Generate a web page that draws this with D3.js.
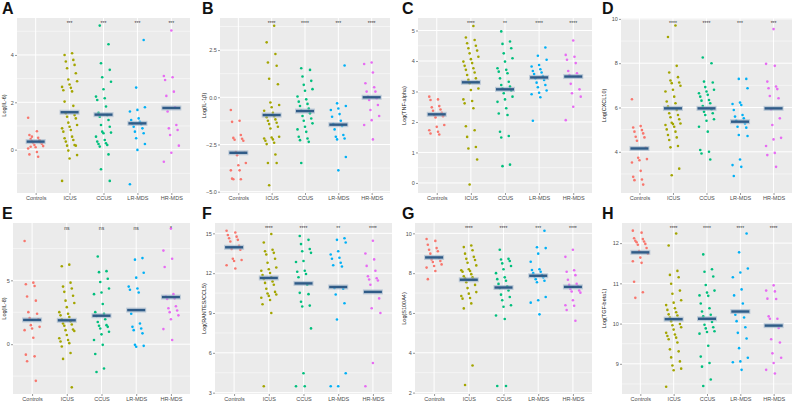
<!DOCTYPE html>
<html>
<head>
<meta charset="utf-8">
<script src="https://cdn.jsdelivr.net/npm/d3@7"></script>
<style>
  body { margin: 0; background: #fff; }
  svg { display: block; font-family: "Liberation Sans", Arial, sans-serif; }
</style>
</head>
<body>
<div id="display"></div>
<script>
// groups and colours (ggplot default hues)
const groups = ['Controls', 'ICUS', 'CCUS', 'LR-MDS', 'HR-MDS'];
const groupColours = ['#F8766D', '#A3A500', '#00BF7D', '#00B0F6', '#E76BF3'];

// A - IL-6
const il6 = [
  [1.35, 0.78, 0.62, 0.5, 0.45, 0.4, 0.35, 0.3, 0.28, 0.25, 0.2, 0.15, 0.1, 0.05, -0.1, -0.2, -0.3, 0.12, 0.4, 0.55],
  [4.07, 4.0, 3.79, 3.72, 3.58, 3.44, 3.23, 2.96, 2.89, 2.75, 2.65, 2.61, 2.51, 2.46, 2.03, 1.85, 1.54, 1.46, 1.39, 1.32, 1.14, 1.04, 0.97, 0.9, 0.83, 0.76, 0.55, 0.48, 0.41, 0.34, 0.2, 0.17, 0.17, -0.04, -0.23, -0.37, -1.32],
  [5.24, 4.45, 3.65, 3.37, 3.06, 2.87, 2.55, 2.24, 2.17, 2.1, 1.82, 1.56, 1.46, 1.39, 1.25, 1.04, 0.97, 0.76, 0.72, 0.69, 0.55, 0.41, 0.34, 0.27, 0.24, 0.2, 0.13, -0.2, -0.83, -1.32],
  [4.63, 2.62, 1.79, 1.68, 1.61, 1.32, 1.25, 1.18, 1.11, 1.08, 0.97, 0.9, 0.76, 0.69, 0.48, 0.24, -0.01, -1.46],
  [5.03, 3.11, 3.06, 2.94, 2.45, 2.27, 1.79, 1.61, 1.04, 0.9, 0.83, 0.62, 0.17, -0.13, -0.51]
];
const il6Median = [0.34, 1.58, 1.48, 1.11, 1.76];
const il6Stars = ['***', '***', '***', '***'];
const il6Ticks = [0, 2, 4];

// B - IL-1b
const il1b = [
  [-0.67, -1.24, -1.3, -2.0, -2.15, -2.2, -2.25, -2.3, -2.9, -2.94, -3.07, -3.48, -3.6, -3.87, -3.87, -4.31, -4.34, -4.34],
  [3.79, 2.91, 2.29, 1.84, 1.67, 0.98, 0.69, -0.28, -0.41, -0.53, -0.71, -0.82, -0.94, -1.0, -1.06, -1.17, -1.24, -1.35, -1.42, -1.56, -1.65, -2.09, -2.13, -2.18, -2.23, -2.3, -2.41, -2.48, -3.03, -3.48, -3.48, -4.66],
  [1.54, 1.45, 1.1, 0.87, 0.66, 0.43, 0.35, 0.04, -0.11, -0.23, -0.35, -0.46, -0.59, -0.71, -0.85, -0.99, -1.12, -1.24, -1.38, -1.56, -1.7, -1.83, -2.09, -2.18, -2.27, -2.36, -3.48],
  [1.68, -0.32, -0.46, -0.59, -0.67, -0.89, -1.03, -1.24, -1.42, -1.52, -1.7, -2.0, -2.09, -2.18, -2.23, -3.16, -3.87],
  [1.84, 1.76, 1.31, 0.74, 0.53, 0.3, 0.3, 0.04, -0.05, -0.14, -0.41, -0.67, -0.99, -1.21, -1.47, -2.23]
];
const il1bMedian = [-2.94, -0.94, -0.73, -1.45, 0.0];
const il1bStars = ['****', '****', '***', '****'];
const il1bTicks = [-5, -2.5, 0, 2.5];

// C - TNF-alpha
const tnf = [
  [2.83, 2.74, 2.72, 2.52, 2.48, 2.41, 2.37, 2.3, 2.23, 2.19, 2.15, 1.9, 1.84, 1.73, 1.68, 1.62, 1.59],
  [5.15, 4.77, 4.69, 4.58, 4.5, 4.42, 4.34, 4.25, 4.14, 4.06, 3.98, 3.93, 3.84, 3.76, 3.71, 3.62, 3.54, 3.43, 3.38, 3.31, 3.27, 3.1, 3.05, 2.74, 2.69, 2.61, 2.45, 1.86, 1.73, 1.51, 1.18, 1.13, 0.77, -0.05],
  [4.97, 4.64, 4.56, 4.42, 4.25, 4.09, 3.98, 3.76, 3.71, 3.65, 3.6, 3.43, 3.32, 3.21, 3.16, 3.1, 3.03, 2.94, 2.83, 2.74, 2.66, 2.45, 2.28, 2.23, 1.68, 1.54, 1.49, 0.6, 0.55],
  [4.44, 4.17, 4.04, 3.87, 3.82, 3.73, 3.67, 3.62, 3.57, 3.51, 3.43, 3.38, 3.29, 3.21, 3.14, 3.03, 2.96, 2.91, 2.81, 2.04],
  [4.67, 4.2, 4.14, 4.04, 3.93, 3.67, 3.6, 3.54, 3.49, 3.25, 3.07, 2.94, 2.83, 2.5, 2.06]
];
const tnfMedian = [2.25, 3.30, 3.07, 3.46, 3.49];
const tnfStars = ['****', '**', '****', '****'];
const tnfTicks = [0, 1, 2, 3, 4, 5];

// D - CXCL10
const cxcl10 = [
  [6.37, 5.16, 5.1, 4.98, 4.91, 4.83, 4.68, 4.65, 4.5, 4.18, 3.73, 3.67, 3.62, 3.52, 3.14, 2.87, 2.75, 2.72, 2.52],
  [9.7, 9.18, 7.88, 7.58, 7.37, 7.22, 7.13, 7.1, 6.98, 6.8, 6.72, 6.49, 6.27, 6.19, 6.04, 5.89, 5.74, 5.66, 5.56, 5.47, 5.31, 5.28, 5.25, 5.21, 5.13, 5.01, 4.91, 4.76, 4.65, 4.53, 4.26, 4.2, 3.24, 2.94],
  [8.26, 8.0, 7.17, 7.13, 6.92, 6.8, 6.72, 6.64, 6.57, 6.49, 6.34, 6.31, 6.19, 6.07, 5.92, 5.81, 5.74, 5.66, 5.47, 5.4, 5.13, 4.91, 4.08, 4.0, 3.92, 3.65],
  [7.29, 7.29, 6.87, 6.22, 6.16, 6.11, 5.89, 5.66, 5.59, 5.51, 5.4, 5.28, 5.13, 5.09, 4.76, 4.71, 3.65, 3.4, 3.32, 2.91],
  [9.54, 7.97, 7.88, 7.17, 6.95, 6.87, 6.83, 6.52, 6.42, 5.92, 5.51, 5.21, 4.63, 4.56, 4.26, 3.95, 3.85, 3.32]
];
const cxcl10Median = [4.15, 5.96, 5.96, 5.36, 5.96];
const cxcl10Stars = ['****', '****', '***', '***'];
const cxcl10Ticks = [4, 6, 8, 10];

// E - IL-8
const il8 = [
  [8.08, 4.82, 4.69, 4.56, 3.74, 3.41, 2.51, 2.38, 2.05, 1.95, 1.49, 1.36, 1.23, 1.1, 0.51, -0.82, -0.95, -1.33, -2.87],
  [6.23, 6.1, 4.82, 4.51, 4.36, 4.1, 3.79, 3.41, 3.23, 2.9, 2.51, 2.38, 2.26, 2.13, 1.95, 1.79, 1.62, 1.54, 1.44, 1.15, 1.1, 1.03, 0.72, 0.46, 0.33, 0.21, 0.08, -0.18, -0.69, -1.15, -3.38],
  [6.87, 5.72, 5.64, 5.13, 4.87, 4.36, 4.05, 3.92, 3.15, 2.51, 2.38, 2.21, 1.95, 1.74, 1.49, 1.44, 1.36, 1.23, 0.97, 0.77, 0.33, -0.05, -0.77, -1.9, -2.18],
  [6.74, 6.62, 5.59, 5.21, 4.51, 4.36, 4.26, 4.05, 2.38, 1.62, 1.36, 1.23, 1.1, 0.85, -0.05, -0.13, -0.2],
  [9.05, 7.33, 6.69, 6.05, 3.92, 3.74, 3.59, 3.54, 2.97, 2.82, 2.64, 2.51, 2.26, 1.95, 1.18, 0.33]
];
const il8Median = [1.9, 1.87, 2.23, 2.67, 3.69];
const il8Stars = ['ns', 'ns', 'ns', '*'];
const il8Ticks = [0, 5];

// F - RANTES/CCL5
const rantes = [
  [15.2, 15.07, 14.88, 14.75, 14.63, 14.51, 14.39, 14.07, 13.82, 13.77, 13.09, 12.99, 12.92, 12.6, 12.35],
  [14.95, 14.31, 13.77, 13.65, 13.53, 13.41, 13.09, 12.79, 12.43, 12.3, 12.18, 12.01, 11.86, 11.69, 11.57, 11.37, 11.27, 11.13, 10.83, 10.59, 10.47, 10.39, 10.29, 10.15, 9.98, 9.66, 9.0, 3.48],
  [14.8, 14.51, 14.19, 13.82, 13.65, 13.53, 12.92, 12.84, 12.18, 12.11, 11.94, 11.69, 11.13, 10.52, 10.42, 9.85, 9.56, 9.49, 7.84, 4.46, 3.48, 3.48],
  [14.63, 14.51, 14.31, 13.65, 13.41, 13.16, 13.09, 12.79, 12.6, 12.5, 10.88, 10.83, 10.39, 9.73, 8.51, 4.46, 3.48, 3.48],
  [14.44, 13.48, 13.04, 12.55, 12.18, 11.77, 11.62, 11.52, 11.45, 11.13, 10.1, 9.36, 9.0, 5.24, 3.48]
];
const rantesMedian = [13.95, 11.64, 11.23, 10.96, 10.59];
const rantesStars = ['****', '****', '**', '****'];
const rantesTicks = [3, 6, 9, 12, 15];

// G - S100A4
const s100 = [
  [9.72, 9.62, 9.43, 9.26, 9.18, 9.1, 8.98, 8.77, 8.69, 8.61, 8.56, 8.44, 8.36, 8.28, 8.11, 7.7],
  [9.39, 9.31, 9.15, 8.98, 8.82, 8.72, 8.66, 8.52, 8.39, 8.2, 8.15, 8.11, 8.07, 7.95, 7.84, 7.79, 7.74, 7.67, 7.54, 7.41, 7.25, 7.05, 6.97, 6.85, 6.75, 6.72, 6.48, 6.23, 3.36, 2.38],
  [9.18, 8.72, 8.69, 8.61, 8.49, 8.36, 8.2, 8.0, 7.79, 7.7, 7.62, 7.46, 7.34, 7.25, 7.13, 6.92, 6.8, 6.64, 6.39, 6.31, 5.87, 5.7, 2.33, 2.33],
  [10.13, 9.3, 9.26, 8.98, 8.57, 8.2, 8.16, 8.07, 8.0, 7.9, 7.84, 7.79, 7.7, 7.62, 7.54, 6.8, 6.64, 6.52, 5.93],
  [9.18, 8.82, 8.15, 8.07, 7.9, 7.67, 7.46, 7.41, 7.34, 7.21, 7.13, 7.08, 7.02, 6.64, 6.39, 6.36, 6.15, 5.61]
];
const s100Median = [8.79, 7.67, 7.28, 7.87, 7.31];
const s100Stars = ['****', '****', '***', '****'];
const s100Ticks = [2, 4, 6, 8, 10];

// H - TGF-beta1
const tgfb = [
  [12.31, 12.26, 12.12, 12.1, 12.06, 12.04, 12.02, 11.98, 11.96, 11.88, 11.8, 11.74, 11.64, 11.55, 11.51, 11.04, 10.78, 10.64],
  [12.24, 11.94, 11.31, 11.21, 11.15, 10.99, 10.82, 10.74, 10.58, 10.52, 10.46, 10.38, 10.34, 10.28, 10.23, 10.2, 10.15, 10.12, 10.06, 9.99, 9.96, 9.91, 9.85, 9.77, 9.73, 9.69, 9.65, 9.61, 9.53, 9.36, 9.31, 9.16, 9.06, 8.96, 8.88, 8.84, 8.43],
  [11.72, 11.35, 11.29, 11.17, 10.96, 10.82, 10.77, 10.7, 10.69, 10.5, 10.38, 10.3, 10.22, 10.18, 10.04, 9.97, 9.91, 9.88, 9.81, 9.79, 9.75, 9.45, 9.18, 9.02, 8.93, 8.61, 8.45],
  [12.24, 11.77, 11.37, 11.27, 11.15, 10.85, 10.7, 10.5, 10.22, 10.15, 10.06, 9.91, 9.77, 9.63, 9.39, 9.15, 9.06, 9.04, 8.85],
  [10.95, 10.82, 10.8, 10.62, 10.61, 10.18, 10.12, 10.12, 9.89, 9.61, 9.53, 9.26, 9.15, 9.02, 8.85, 8.76]
];
const tgfbMedian = [11.77, 10.11, 10.12, 10.3, 9.95];
const tgfbStars = ['****', '****', '****', '****'];
const tgfbTicks = [9, 10, 11, 12];

// panel table built from the arrays above, plus layout (col = left edge of the cell)
const panels = [
  {letter: 'A', title: 'Log(IL-6)', data: il6, med: il6Median, stars: il6Stars, ticks: il6Ticks, dom: [-1.83, 5.56], box: [17, 190, 18, 193], col: 0},
  {letter: 'B', title: 'Log(IL-1\u03b2)', data: il1b, med: il1bMedian, stars: il1bStars, ticks: il1bTicks, dom: [-5.07, 4.2], box: [220, 390, 18, 193], col: 200},
  {letter: 'C', title: 'Log(TNF-alpha)', data: tnf, med: tnfMedian, stars: tnfStars, ticks: tnfTicks, dom: [-0.33, 5.41], box: [418, 592, 18, 193], col: 400},
  {letter: 'D', title: 'Log(CXCL10)', data: cxcl10, med: cxcl10Median, stars: cxcl10Stars, ticks: cxcl10Ticks, dom: [2.14, 10.04], box: [621, 792, 18, 193], col: 600},
  {letter: 'E', title: 'Log(IL-8)', data: il8, med: il8Median, stars: il8Stars, ticks: il8Ticks, dom: [-3.9, 9.49], box: [13, 190, 223, 394], col: 0},
  {letter: 'F', title: 'Log(RANTES/CCL5)', data: rantes, med: rantesMedian, stars: rantesStars, ticks: rantesTicks, dom: [2.9, 15.78], box: [215, 392, 223, 394], col: 200},
  {letter: 'G', title: 'Log(S100A4)', data: s100, med: s100Median, stars: s100Stars, ticks: s100Ticks, dom: [1.93, 10.52], box: [415, 592, 223, 394], col: 400},
  {letter: 'H', title: 'Log(TGF-beta1)', data: tgfb, med: tgfbMedian, stars: tgfbStars, ticks: tgfbTicks, dom: [8.25, 12.5], box: [622, 792, 223, 394], col: 600}
];

let svg = d3.select('#display')
  .append('svg')
    .attr('width', 800)
    .attr('height', 404);

// fixed jitter pattern so the picture is the same every time
const jitter = i => ((i * 7) % 13) / 12 - 0.5;

panels.forEach(p => {
  let [x0, x1, y0, y1] = p.box;
  let g = svg.append('g');

  let x = d3.scalePoint()
    .domain(groups)
    .range([x0, x1])
    .padding(0.55);
  let y = d3.scaleLinear()
    .domain(p.dom)
    .range([y1, y0]);

  // panel background
  g.append('rect')
    .attr('x', x0).attr('y', y0)
    .attr('width', x1 - x0).attr('height', y1 - y0)
    .attr('fill', '#EBEBEB');

  // minor grid (half way between major ticks)
  let step = p.ticks[1] - p.ticks[0];
  let minors = [p.ticks[0] - step / 2].concat(p.ticks.map(t => t + step / 2))
    .filter(v => v > p.dom[0] && v < p.dom[1]);
  g.selectAll('.minor')
    .data(minors)
    .enter()
    .append('line')
      .attr('x1', x0).attr('x2', x1)
      .attr('y1', d => y(d)).attr('y2', d => y(d))
      .attr('stroke', '#fff').attr('stroke-width', 0.5);

  // major grid
  g.selectAll('.major')
    .data(p.ticks)
    .enter()
    .append('line')
      .attr('x1', x0).attr('x2', x1)
      .attr('y1', d => y(d)).attr('y2', d => y(d))
      .attr('stroke', '#fff').attr('stroke-width', 1);
  g.selectAll('.vgrid')
    .data(groups)
    .enter()
    .append('line')
      .attr('x1', d => x(d)).attr('x2', d => x(d))
      .attr('y1', y0).attr('y2', y1)
      .attr('stroke', '#fff').attr('stroke-width', 1);

  // axes
  let yAxis = g.append('g')
    .attr('transform', 'translate(' + x0 + ',0)')
    .call(d3.axisLeft(y).tickValues(p.ticks).tickSize(2).tickPadding(1.2)
      .tickFormat(d => Number.isInteger(step) ? d : d3.format('.1f')(d)));
  let xAxis = g.append('g')
    .attr('transform', 'translate(0,' + y1 + ')')
    .call(d3.axisBottom(x).tickSize(2).tickPadding(1.5));
  [xAxis, yAxis].forEach(a => {
    a.select('.domain').remove();
    a.selectAll('line').attr('stroke', '#333').attr('stroke-width', 0.5);
    a.selectAll('text').attr('fill', '#4D4D4D').style('font-size', '5.5px');
  });

  // axis title
  g.append('text')
    .attr('transform', 'translate(' + (p.col + 6) + ',' + ((y0 + y1) / 2) + ') rotate(-90)')
    .attr('text-anchor', 'middle')
    .style('font-size', '5.5px')
    .attr('fill', '#222')
    .text(p.title);

  // panel letter
  svg.append('text')
    .attr('x', p.col + 2)
    .attr('y', y0 - 4)
    .style('font-size', '16px')
    .style('font-weight', 'bold')
    .attr('fill', '#111')
    .text(p.letter);

  // points
  p.data.forEach((vals, gi) => {
    g.selectAll('.pt' + gi)
      .data(vals)
      .enter()
      .append('circle')
        .attr('cx', (d, i) => x(groups[gi]) + jitter(i + gi * 3) * 15)
        .attr('cy', d => y(d))
        .attr('r', 1.3)
        .attr('fill', groupColours[gi]);
  });

  // median bars
  g.selectAll('.halo')
    .data(p.med)
    .enter()
    .append('rect')
      .attr('x', (d, i) => x(groups[i]) - 10)
      .attr('y', d => y(d) - 2.5)
      .attr('width', 20).attr('height', 5)
      .attr('fill', '#9DB3C8').attr('opacity', 0.6);
  g.selectAll('.bar')
    .data(p.med)
    .enter()
    .append('rect')
      .attr('x', (d, i) => x(groups[i]) - 9)
      .attr('y', d => y(d) - 1.2)
      .attr('width', 18).attr('height', 2.4)
      .attr('fill', '#2F5B87');

  // significance labels
  g.selectAll('.star')
    .data(p.stars)
    .enter()
    .append('text')
      .attr('x', (d, i) => x(groups[i + 1]))
      .attr('y', y0 + 7)
      .attr('text-anchor', 'middle')
      .style('font-size', '5px')
      .attr('fill', '#333')
      .text(d => d);
});
</script>
</body>
</html>
